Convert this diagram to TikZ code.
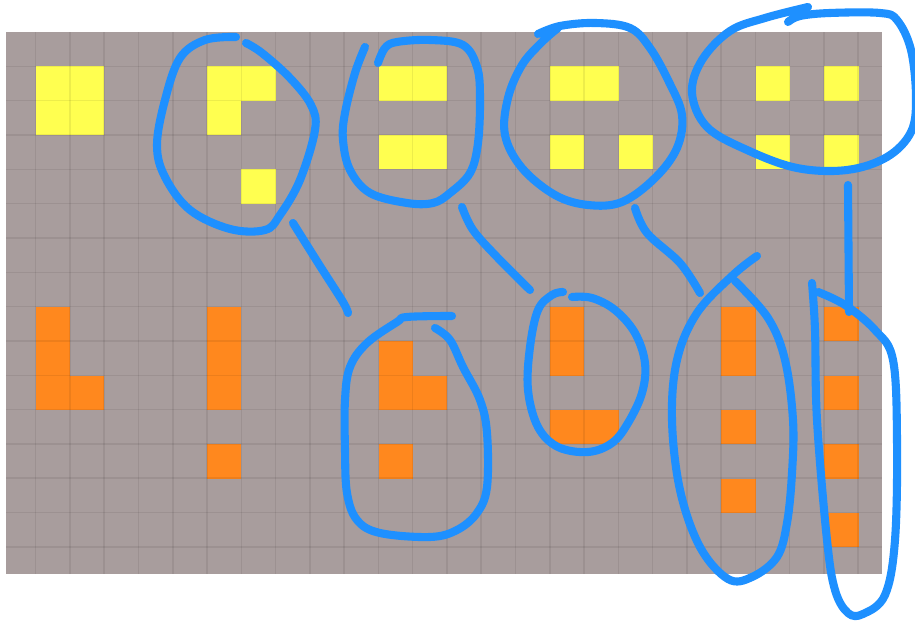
\documentclass[tikz,border=0pt]{standalone}
\definecolor{bggrey}{HTML}{A89D9D}
\definecolor{cellyellow}{HTML}{FFFF50}
\definecolor{cellorange}{HTML}{FF881E}
\definecolor{penblue}{HTML}{1E90FF}
\tikzset{
  gridline/.style={draw=black, opacity=0.07, line width=0.45pt},
  ycell/.style={fill=cellyellow},
  ocell/.style={fill=cellorange},
  pen/.style={draw=penblue, line width=2.3pt, line cap=round, line join=round},
}
\begin{document}
\begin{tikzpicture}[x=0.01cm, y=-0.01cm]
\useasboundingbox (0,0) rectangle (915,622);
\fill[white] (0,0) rectangle (915,622);
% board
\fill[bggrey] (6,32) rectangle (882,574);
% cells
\begin{scope}[shift={(35.7,32)}, x=0.3427cm, y=-0.3433cm]
  \foreach \c/\r in {0/1,1/1,0/2,1/2, 5/1,6/1,5/2,6/4, 10/1,11/1,10/3,11/3,
                     15/1,16/1,15/3,17/3, 21/1,23/1,21/3,23/3}
    \path[ycell] (\c,\r) rectangle ++(1,1);
  \foreach \c/\r in {0/8,0/9,0/10,1/10, 5/8,5/9,5/10,5/12, 10/9,10/10,11/10,10/12,
                     15/8,15/9,15/11,16/11, 20/8,20/9,20/11,20/13, 23/8,23/10,23/12,23/14}
    \path[ocell] (\c,\r) rectangle ++(1,1);
\end{scope}
% grid lines
\foreach \k in {0,...,24}
  \draw[gridline] ({35.7+34.27*\k},32) -- ({35.7+34.27*\k},574);
\foreach \k in {1,...,15}
  \draw[gridline] (6,{32+34.33*\k}) -- (882,{32+34.33*\k});
% hand-drawn loops (top row)
\draw[pen] plot[smooth, tension=0.6] coordinates {(236,37) (205,40) (180,58) (165,100) (157,145) (165,177) (190,210) (230,229) (265,230) (280,215) (300,180) (315,130) (311,105) (290,78) (262,53) (246,43)};
\draw[pen] plot[smooth, tension=0.6] coordinates {(365,47) (355,73) (345,113) (343,140) (350,170) (370,193) (407,203) (433,203) (450,193) (470,173) (478,143) (480,97) (477,67) (463,45) (430,40) (397,42) (385,48) (378,63)};
\draw[pen] plot[smooth, tension=0.6] coordinates {(538,34) (560,26) (595,23) (630,28) (650,48) (669,82) (682,115) (677,148) (655,178) (622,202) (588,205) (555,195) (522,168) (505,135) (508,98) (522,65) (542,42) (558,28)};
\draw[pen] plot[smooth, tension=0.6] coordinates {(808,7) (765,18) (730,31) (702,60) (692,93) (707,127) (747,150) (797,168) (847,170) (887,157) (911,132) (916,98) (911,50) (897,20) (880,13) (830,13) (800,16) (788,22)};
% connectors
\draw[pen] plot[smooth, tension=0.6] coordinates {(293,223) (320,266) (343,302) (348,313)};
\draw[pen] plot[smooth, tension=0.6] coordinates {(462,207) (473,230) (497,257) (530,290)};
\draw[pen] plot[smooth, tension=0.6] coordinates {(635,208) (647,233) (680,263) (700,293)};
\draw[pen] (848,185) -- (849,312);
% hand-drawn loops (bottom row)
\draw[pen] plot[smooth, tension=0.6] coordinates {(452,316) (407,317) (397,322) (367,343) (350,367) (345,400) (345,450) (347,493) (357,520) (380,533) (430,537) (457,530) (477,513) (487,487) (487,433) (480,400) (463,367) (450,340) (435,328)};
\draw[pen] plot[smooth, tension=0.6] coordinates {(563,292) (552,295) (538,310) (530,347) (528,390) (538,427) (558,447) (588,452) (612,443) (628,423) (642,393) (645,363) (635,333) (615,310) (592,298) (572,297)};
\draw[pen] plot[smooth, tension=0.6] coordinates {(757,256) (733,275) (697,313) (677,360) (672,420) (680,490) (700,547) (728,579) (752,577) (777,557) (787,523) (792,473) (793,420) (785,360) (768,318) (735,281)};
\draw[pen] plot[smooth, tension=0.6] coordinates {(812,283) (815,330) (817,420) (827,540) (835,590) (848,613) (863,614) (885,595) (895,540) (897,440) (893,360) (875,330) (845,305) (818,292)};
\end{tikzpicture}
\end{document}
